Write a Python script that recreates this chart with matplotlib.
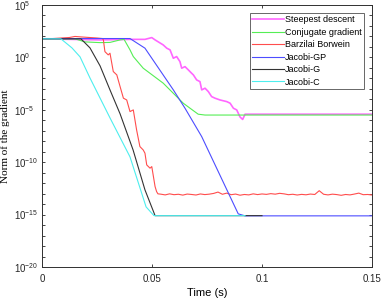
import numpy as np
import matplotlib
matplotlib.use("Agg")
import matplotlib.pyplot as plt
from matplotlib.ticker import FixedLocator, LogLocator, NullFormatter, FuncFormatter

plt.rcParams['font.family'] = ['Liberation Sans', 'DejaVu Sans']
plt.rcParams['mathtext.fontset'] = 'custom'
plt.rcParams['mathtext.rm'] = 'Liberation Sans'

# values are log10 of the gradient norm
sd_t = [0, 0.0264, 0.04, 0.0468, 0.0499, 0.0514, 0.0551, 0.0567, 0.0582, 0.0597, 0.0612,
        0.0627, 0.0635, 0.065, 0.0665, 0.068, 0.0688, 0.0703, 0.0718, 0.0726, 0.0741,
        0.0756, 0.0771, 0.0786, 0.0809, 0.084, 0.0855, 0.087, 0.0885, 0.09, 0.0912,
        0.0923, 0.15]
sd_log = [1.77, 1.67, 1.72, 1.72, 1.89, 1.67, 1.19, 0.88, 0.72, -0.08, 0.08,
          -0.4, -1.03, -0.88, -1.19, -1.51, -1.67, -2.15, -2.31, -3.1, -2.94,
          -3.26, -3.74, -3.89, -4.06, -4.22, -4.37, -4.85, -5.01, -5.68, -5.92,
          -5.42, -5.42]

cg_t = [0, 0.015, 0.0195, 0.0264, 0.0309, 0.0355, 0.0373, 0.04, 0.0415, 0.046, 0.0551,
        0.0642, 0.0673, 0.071, 0.0741, 0.15]
cg_log = [1.77, 1.77, 1.48, 1.41, 1.43, 1.67, 1.72, 0.72, 0.08, -1.03, -2.46,
          -4.37, -4.85, -5.42, -5.5, -5.5]

bb_t = [0, 0.005, 0.0125, 0.015, 0.018, 0.025, 0.0275, 0.0279, 0.0286, 0.0301, 0.0309,
        0.0324, 0.034, 0.0355, 0.037, 0.0385, 0.04, 0.0415, 0.043, 0.0445, 0.046,
        0.0468, 0.0476, 0.0491, 0.0499, 0.0514, 0.0521, 0.0527]
bb_log = [1.77, 1.8, 1.9, 2.0, 1.95, 1.85, 1.8, 1.67, 0.55, 0.24, 0.40,
          -1.35, -1.67, -2.79, -3.89, -4.06, -5.17, -5.01, -6.92, -8.51, -8.83,
          -9.14, -10.26, -10.57, -10.42, -12.33, -12.81, -13.02]
# noisy floor of Barzilai Borwein, sampled every 0.002 s from 0.054 to 0.15
bb_floor = [-13.05, -13.12, -13.02, -13.10, -13.06, -13.14, -13.04, -13.08, -13.13, -13.03,
            -13.09, -13.05, -12.98, -12.85, -13.06, -12.95, -13.10, -13.04, -13.15, -13.08,
            -13.12, -13.02, -13.09, -13.03, -13.07, -13.00, -13.05, -12.97, -13.02, -13.10,
            -13.06, -13.13, -13.07, -13.11, -13.04, -13.08, -12.72, -13.06, -13.12, -13.05,
            -13.09, -13.16, -13.08, -13.12, -13.04, -12.95, -13.10, -13.08, -13.13]

gp_t = [0, 0.0391, 0.04, 0.0468, 0.0597, 0.065, 0.0726, 0.0892, 0.0923, 0.15]
gp_log = [1.8, 1.8, 1.8, 0.88, -3.1, -4.85, -7.56, -14.93, -15.12, -15.12]

g_t = [0, 0.0177, 0.0218, 0.0264, 0.0309, 0.0355, 0.0414, 0.0468, 0.0514, 0.1]
g_log = [1.77, 1.77, 0.91, -0.81, -3.1, -5.39, -8.83, -12.64, -15.1, -15.1]

c_t = [0, 0.0086, 0.0136, 0.0173, 0.0218, 0.0309, 0.04, 0.0473, 0.0509, 0.0923]
c_log = [1.77, 1.77, 0.91, 0.05, -1.96, -5.77, -9.49, -14.26, -15.1, -15.1]

labels = ['Steepest descent', 'Conjugate gradient', 'Barzilai Borwein',
          'Jacobi-GP', 'Jacobi-G', 'Jacobi-C']
colors = ['#ff66ff', '#55ee55', '#ff4d4d', '#4d4dff', '#333333', '#4deeee']

bb_full_t = bb_t + list(np.linspace(0.054, 0.15, len(bb_floor)))
bb_full_log = bb_log + bb_floor

series = [(sd_t, sd_log), (cg_t, cg_log), (bb_full_t, bb_full_log),
          (gp_t, gp_log), (g_t, g_log), (c_t, c_log)]

fig = plt.figure(figsize=(3.83, 3.0), dpi=100)
ax = fig.add_axes([42 / 383, 33 / 300, 330 / 383, 262 / 300])

for (t, lg), lab, col in zip(series, labels, colors):
    lw = 1.2 if lab == 'Steepest descent' else 0.8
    ax.semilogy(t, 10.0 ** np.array(lg), color=col, lw=lw, label=lab)

ax.set_xlim(0, 0.15)
ax.set_ylim(1e-20, 1e5)
ax.set_xticks([0, 0.05, 0.1, 0.15])
ax.set_xticklabels(['0', '0.05', '0.1', '0.15'])
ax.yaxis.set_major_locator(FixedLocator([10.0 ** k for k in range(-20, 6, 5)]))
ax.yaxis.set_major_formatter(FuncFormatter(lambda v, p: r'$\mathdefault{10^{%d}}$' % round(np.log10(v))))
ax.yaxis.set_minor_locator(LogLocator(base=10, subs=(1.0,), numticks=60))
ax.yaxis.set_minor_formatter(NullFormatter())

ax.tick_params(which='both', direction='in', top=True, right=True, length=2.5,
               width=0.6, labelsize=7, colors='#262626')
ax.tick_params(axis='x', pad=5)
ax.tick_params(axis='y', pad=20)
plt.setp(ax.get_yticklabels(), ha='left')
for s in ax.spines.values():
    s.set_linewidth(0.7)
    s.set_color('#303030')

ax.set_xlabel('Time (s)', fontsize=8, labelpad=3)
ax.set_ylabel('Norm of the gradient', fontsize=8, family=['Liberation Serif'])
ax.yaxis.set_label_coords(-0.097, 0.5)

leg = ax.legend(loc='upper right', bbox_to_anchor=(0.976, 0.969), borderaxespad=0,
                fontsize=6.5, frameon=True, fancybox=False, edgecolor='#404040',
                handlelength=3.5, handletextpad=0.15, borderpad=0.25, labelspacing=0.38)
leg.get_frame().set_linewidth(0.7)

fig.savefig('out.png', dpi=100)
